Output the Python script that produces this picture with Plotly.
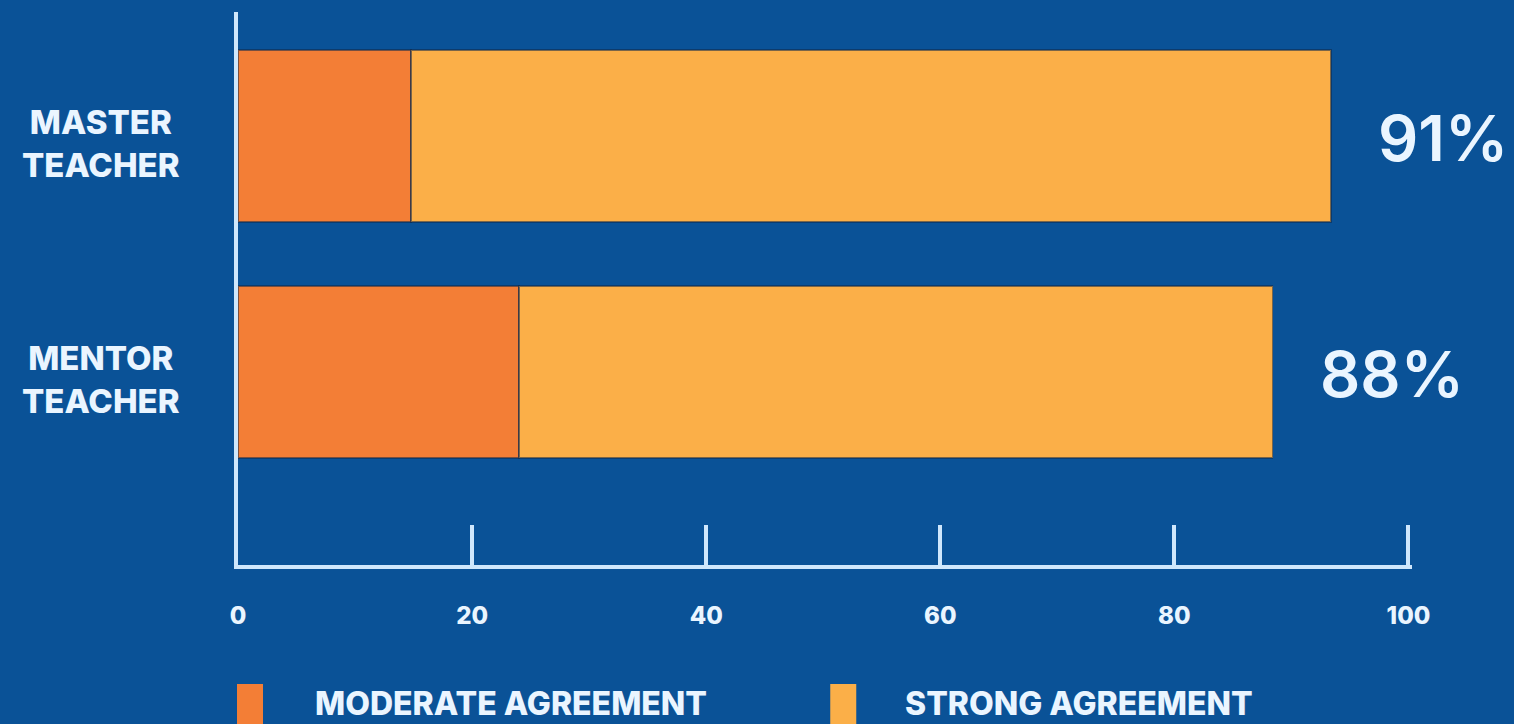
import plotly.graph_objects as go

# ---- data ----
categories = ["MENTOR<br>TEACHER", "MASTER<br>TEACHER"]
series_names = ["MODERATE AGREEMENT", "STRONG AGREEMENT"]
moderate = [24.0, 14.8]
strong = [64.4, 78.6]
total_labels = ["88%", "91%"]
x_ticks = [0, 20, 40, 60, 80, 100]
colors = ["#F37E36", "#FBAF48"]

BG = "#0a5297"
AXIS = "#cfe7fc"
TXT = "#eaf5ff"
FONT = "Inter"

W, H = 1514, 724
X_MAX = 100.3
L, T, B = 238, 12, 159
pw = 1170 * X_MAX / 100
R = W - L - pw
ph = H - T - B

def px_x(p):
    return (p - L) / pw

def px_y(p):
    return (H - B - p) / ph

ypos = list(range(len(categories)))
totals = [m + s for m, s in zip(moderate, strong)]

fig = go.Figure()
for name, vals, col in zip(series_names, [moderate, strong], colors):
    fig.add_trace(go.Bar(
        y=ypos, x=vals, name=name, orientation="h",
        marker=dict(color=col, line=dict(color="rgba(15,40,75,0.55)", width=1.5)),
        width=0.73, showlegend=False, hoverinfo="x+name",
    ))

annotations = []
# category labels
for yi, cat in zip(ypos, categories):
    annotations.append(dict(
        x=px_x(101), xref="paper", y=yi, yref="y", yshift=-8,
        text=cat, showarrow=False, xanchor="center", yanchor="middle", align="center",
        font=dict(family=FONT, size=33, color=TXT, weight=800),
    ))
# total labels
for yi, tot, lab in zip(ypos, totals, total_labels):
    annotations.append(dict(
        x=tot, xref="x", y=yi, yref="y", xshift=45, yshift=-2,
        text=lab, showarrow=False, xanchor="left", yanchor="middle",
        font=dict(family=FONT, size=63, color=TXT, weight=600),
    ))

# custom legend
shapes = []
swatch_left = [237, 830]
text_left = [313, 903]
for name, col, sl, tl in zip(series_names, colors, swatch_left, text_left):
    shapes.append(dict(type="rect", xref="paper", yref="paper",
                       x0=px_x(sl), x1=px_x(sl + 26), y0=px_y(724), y1=px_y(684),
                       fillcolor=col, line=dict(width=0)))
    annotations.append(dict(
        x=px_x(tl), xref="paper", y=px_y(703), yref="paper",
        text=name, showarrow=False, xanchor="left", yanchor="middle",
        font=dict(family=FONT, size=32, color=TXT, weight=800),
    ))

fig.update_layout(
    width=W, height=H,
    margin=dict(l=L, r=R, t=T, b=B, pad=0),
    paper_bgcolor=BG, plot_bgcolor=BG,
    barmode="stack",
    annotations=annotations, shapes=shapes,
    xaxis=dict(
        range=[0, X_MAX], tickvals=x_ticks, ticktext=[str(v) for v in x_ticks],
        showgrid=False, zeroline=False,
        showline=True, linecolor=AXIS, linewidth=3.5,
        ticks="inside", ticklen=40, tickwidth=3.5, tickcolor=AXIS,
        ticklabelstandoff=26,
        tickfont=dict(family=FONT, size=24, color=TXT, weight=800),
        fixedrange=True,
    ),
    yaxis=dict(
        range=[-0.818, 1.525], showticklabels=False, showgrid=False, zeroline=False,
        showline=True, linecolor=AXIS, linewidth=3.5, ticks="",
        fixedrange=True,
    ),
)

fig.write_html(
    "out.html",
    config={"displayModeBar": False},
    post_script="document.body.style.margin='0';document.body.style.background='" + BG + "';",
)
